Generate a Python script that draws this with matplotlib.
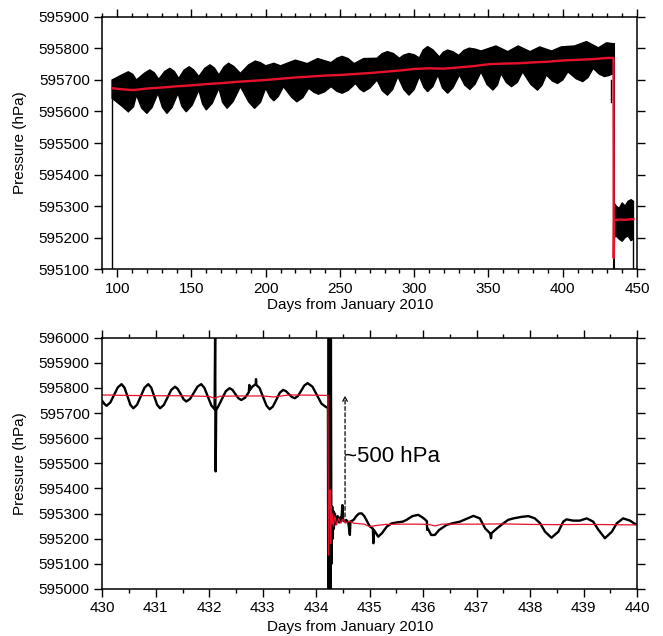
import numpy as np
import matplotlib
matplotlib.use("Agg")
import matplotlib.pyplot as plt
from matplotlib.ticker import MultipleLocator

plt.rcParams['font.family'] = ['Liberation Sans', 'DejaVu Sans']
plt.rcParams['font.size'] = 11

# ---- top panel: long record, black band = envelope of the raw signal ----
band_up_days = [96.6, 104, 107.5, 110.5, 113, 118.5, 122, 125, 128, 132, 135.5, 138.5, 141.5,
                145, 148.5, 151.5, 155, 159, 162.5, 165.5, 168.5, 172, 175, 178.5, 183,
                188.5, 193, 196.5, 200, 205.5, 210, 215.5, 220, 228, 235, 244, 248, 251.5,
                255.5, 259.5, 266, 275, 278.5, 282, 286, 290, 293, 296.5, 300, 303.5, 306,
                309, 312.5, 317, 319.5, 322.5, 326, 330, 333.5, 337, 341, 345, 355, 363, 370,
                378, 384.5, 392.5, 399, 408, 416, 424, 429.5, 434.3]
band_up_vals = [595700, 595718, 595726, 595718, 595700, 595722, 595732, 595723, 595702, 595727,
                595737, 595727, 595705, 595731, 595742, 595732, 595711, 595737, 595748, 595738,
                595716, 595742, 595753, 595743, 595721, 595748, 595760, 595755, 595745, 595753,
                595745, 595755, 595763, 595752, 595768, 595755, 595769, 595775, 595768, 595752,
                595768, 595769, 595784, 595790, 595784, 595769, 595779, 595784, 595780, 595770,
                595795, 595806, 595796, 595773, 595788, 595795, 595790, 595778, 595794, 595801,
                595798, 595792, 595808, 595790, 595808, 595790, 595805, 595792, 595805, 595808,
                595822, 595802, 595818, 595815]
band_lo_days = [96.6, 104, 107.5, 111, 113, 116.5, 120, 123.5, 127.5, 130.5, 133.5, 137, 141,
                143.5, 146.5, 150.5, 155, 157.5, 160, 164, 168.5, 171, 174, 178, 183, 188.5,
                192.5, 196.5, 200, 203, 205.5, 208.5, 212, 217.5, 221, 225, 229, 232.5, 235.5,
                239.5, 244, 248, 251.5, 255.5, 260.5, 263.5, 266, 270, 275, 278.5, 282, 285.5,
                289, 293, 296.5, 300, 303.5, 306.5, 309, 312.5, 316, 319, 322.5, 326, 330.5,
                334, 337.5, 341, 345, 349, 353, 356, 358.5, 362, 365.5, 369.5, 373, 378.5,
                383, 386, 389, 393, 396.5, 400, 403.5, 409, 413.5, 417, 420.5, 424.5, 428,
                431, 434.3]
band_lo_vals = [595642, 595614, 595599, 595615, 595652, 595611, 595594, 595613, 595658, 595613,
                595594, 595613, 595658, 595617, 595599, 595620, 595668, 595624, 595605, 595626,
                595674, 595629, 595610, 595631, 595679, 595631, 595610, 595629, 595674, 595646,
                595634, 595648, 595679, 595645, 595631, 595644, 595674, 595661, 595655, 595662,
                595679, 595664, 595658, 595667, 595689, 595671, 595663, 595674, 595700, 595666,
                595652, 595670, 595711, 595670, 595652, 595670, 595711, 595677, 595663, 595679,
                595716, 595675, 595658, 595675, 595716, 595684, 595670, 595687, 595726, 595686,
                595668, 595684, 595721, 595692, 595679, 595693, 595726, 595686, 595668, 595683,
                595716, 595697, 595689, 595700, 595726, 595704, 595695, 595708, 595737, 595719,
                595711, 595714, 595721]

after_up_days = [434.5, 436, 438, 440, 442, 444, 446, 447.6]
after_up_vals = [595310, 595300, 595292, 595310, 595300, 595315, 595320, 595315]
after_lo_days = [434.5, 436, 438, 440, 442, 444, 446, 447.6]
after_lo_vals = [595200, 595205, 595195, 595188, 595200, 595205, 595190, 595195]

red_top_days = [96.6, 100, 105, 110, 115, 120, 130, 140, 150, 160, 170, 180, 190, 200, 210,
                220, 230, 240, 250, 260, 270, 280, 290, 300, 310, 320, 330, 340, 350, 360,
                370, 380, 390, 400, 410, 420, 430, 434.2, 434.35, 434.6, 438, 442, 446, 447.6]
red_top_vals = [595674, 595672, 595670, 595668, 595670, 595673, 595676, 595680, 595683, 595687,
                595690, 595694, 595697, 595700, 595704, 595708, 595711, 595714, 595716, 595719,
                595722, 595726, 595730, 595735, 595737, 595736, 595740, 595744, 595750, 595752,
                595753, 595756, 595758, 595762, 595764, 595766, 595770, 595770, 595135, 595255,
                595257, 595256, 595258, 595258]

# ---- bottom panel: zoom on days 430-440 ----
raw_days = [430.00, 430.04, 430.08, 430.15, 430.22, 430.29, 430.36, 430.415, 430.47, 430.525,
            430.58, 430.65, 430.72, 430.79, 430.86, 430.915, 430.97, 431.025, 431.08, 431.15,
            431.22, 431.29, 431.36, 431.41, 431.465, 431.52, 431.57, 431.64, 431.71, 431.78,
            431.85, 431.91, 431.975, 432.04, 432.10, 432.11, 432.12, 432.13, 432.17, 432.24,
            432.31, 432.38, 432.435, 432.49, 432.545, 432.60, 432.67, 432.74, 432.75, 432.755,
            432.81, 432.87, 432.875, 432.88, 432.94, 433.005, 433.07, 433.13, 433.19, 433.255,
            433.32, 433.38, 433.435, 433.49, 433.545, 433.60, 433.66, 433.72, 433.78, 433.84,
            433.93, 434.015, 434.10, 434.19, 434.22,
            434.225, 434.235, 434.245, 434.255, 434.265, 434.275, 434.285,
            434.29, 434.30, 434.31, 434.32, 434.33, 434.35, 434.37, 434.40, 434.43, 434.45,
            434.47, 434.49, 434.505, 434.53, 434.56, 434.60, 434.63, 434.64, 434.70, 434.75,
            434.80, 434.85, 434.90, 434.95, 435.00, 435.06, 435.07, 435.08, 435.16, 435.23,
            435.32, 435.41, 435.51, 435.62, 435.69, 435.80, 435.91, 436.00, 436.07, 436.075,
            436.09, 436.15, 436.22, 436.30, 436.44, 436.56, 436.69, 436.82, 436.94, 437.06,
            437.11, 437.16, 437.25, 437.27, 437.28, 437.38, 437.50, 437.59, 437.69, 437.84,
            437.97, 438.09, 438.19, 438.28, 438.40, 438.53, 438.62, 438.68, 438.81, 438.93,
            439.06, 439.18, 439.28, 439.40, 439.53, 439.62, 439.74, 439.87, 439.96, 440.00]
raw_vals = [595748, 595736, 595729, 595742, 595772, 595802, 595815, 595801, 595767, 595733,
            595719, 595733, 595767, 595801, 595815, 595801, 595767, 595733, 595719, 595732,
            595762, 595792, 595805, 595796, 595776, 595755, 595746, 595756, 595780, 595805,
            595815, 595800, 595765, 595730, 595715, 596010, 595468, 595712, 595727, 595757,
            595787, 595799, 595792, 595775, 595759, 595752, 595761, 595783, 595812, 595790,
            595806, 595815, 595835, 595812, 595800, 595765, 595730, 595715, 595726, 595753,
            595781, 595792, 595787, 595775, 595764, 595759, 595768, 595789, 595810, 595819,
            595805, 595771, 595737, 595723, 595725,
            595000, 596000, 595000, 596000, 595000, 596000, 595100,
            595210, 595327, 595200, 595310, 595240, 595300, 595260, 595290, 595265, 595285,
            595270, 595334, 595275, 595268, 595275, 595265, 595215, 595268, 595275, 595290,
            595300, 595301, 595290, 595270, 595250, 595240, 595182, 595235, 595208, 595222,
            595248, 595261, 595265, 595268, 595275, 595290, 595295, 595283, 595270, 595235,
            595240, 595215, 595215, 595235, 595255, 595262, 595268, 595280, 595291, 595281,
            595261, 595241, 595222, 595202, 595222, 595241, 595261, 595275, 595281, 595287,
            595290, 595281, 595261, 595228, 595204, 595228, 595268, 595277, 595272, 595272,
            595281, 595268, 595235, 595202, 595228, 595261, 595281, 595272, 595259, 595258]

red_bot_days = [430.0, 430.5, 431.0, 431.5, 432.0, 432.1, 432.2, 432.6, 433.0, 433.2, 433.5,
                434.0, 434.22, 434.23, 434.24, 434.25, 434.26, 434.27, 434.28, 434.29, 434.30,
                434.32, 434.35, 434.38, 434.42, 434.46, 434.50, 434.55, 434.62, 434.70, 434.80,
                434.90, 435.00, 435.10, 435.30, 435.60, 435.90, 436.10, 436.22, 436.35, 436.60,
                437.00, 437.50, 438.00, 438.50, 439.00, 439.50, 440.00]
red_bot_vals = [595772, 595770, 595769, 595769, 595766, 595759, 595767, 595768, 595768, 595764,
                595772, 595771, 595770, 595135, 595390, 595320, 595395, 595180, 595330, 595260,
                595300, 595250, 595290, 595255, 595280, 595262, 595278, 595262, 595270, 595262,
                595260, 595258, 595248, 595252, 595257, 595258, 595258, 595257, 595251, 595258,
                595258, 595258, 595259, 595257, 595256, 595257, 595256, 595255]

red = '#e8112d'

fig = plt.figure(figsize=(6.63, 6.36), dpi=100)
ax1 = fig.add_axes([0.1543, 0.577, 0.8065, 0.3963])
ax2 = fig.add_axes([0.1543, 0.0739, 0.8065, 0.3952])

# top panel
poly_x = np.concatenate([band_up_days, band_lo_days[::-1]])
poly_y = np.concatenate([band_up_vals, band_lo_vals[::-1]])
ax1.fill(poly_x, poly_y, color='black', lw=1.0)
poly_x = np.concatenate([after_up_days, after_lo_days[::-1]])
poly_y = np.concatenate([after_up_vals, after_lo_vals[::-1]])
ax1.fill(poly_x, poly_y, color='black', lw=1.0)
ax1.plot([band_up_days[0], band_up_days[0]], [595100, band_up_vals[0]], color='black', lw=1)
ax1.plot([434.3, 434.3], [595100, band_up_vals[-1]], color='black', lw=1.5)
ax1.plot([432.6, 432.6], [595631, 595700], color='black', lw=1)
ax1.plot([after_lo_days[-1], after_lo_days[-1]], [595100, after_lo_vals[-1]], color='black', lw=1)
ax1.plot(red_top_days, red_top_vals, color=red, lw=1.7)

ax1.set_xlim(90, 450)
ax1.set_ylim(595100, 595900)
ax1.xaxis.set_major_locator(MultipleLocator(50))
ax1.xaxis.set_minor_locator(MultipleLocator(10))
ax1.yaxis.set_major_locator(MultipleLocator(100))
ax1.set_xlabel('Days from January 2010')
ax1.set_ylabel('Pressure (hPa)')

# bottom panel
ax2.plot(raw_days, raw_vals, color='black', lw=1.7)
ax2.plot(red_bot_days, red_bot_vals, color=red, lw=0.9)
ax2.annotate('', xy=(434.54, 595770), xytext=(434.54, 595288),
             arrowprops=dict(arrowstyle='->', linestyle=(0, (3, 2)), lw=0.9, color='black',
                             shrinkA=0, shrinkB=0, mutation_scale=8))
ax2.text(434.52, 595527, '~500 hPa', fontsize=16, ha='left', va='center')

ax2.set_xlim(430, 440)
ax2.set_ylim(595000, 596000)
ax2.xaxis.set_major_locator(MultipleLocator(1))
ax2.xaxis.set_minor_locator(MultipleLocator(0.5))
ax2.yaxis.set_major_locator(MultipleLocator(100))
ax2.set_xlabel('Days from January 2010')
ax2.set_ylabel('Pressure (hPa)')

for ax in (ax1, ax2):
    ax.ticklabel_format(useOffset=False, style='plain')
    ax.tick_params(which='both', direction='out', top=True, right=True, width=1)
    ax.tick_params(which='major', length=5.5)
    ax.tick_params(which='minor', length=3)
    for s in ax.spines.values():
        s.set_linewidth(1.1)
    ax.yaxis.set_label_coords(-0.141, 0.5)

# GMT-style: x label sits a bit left of the axis centre
ax1.xaxis.set_label_coords(0.463, -0.115)
ax2.xaxis.set_label_coords(0.463, -0.124)

fig.savefig('out.png', dpi=100)
